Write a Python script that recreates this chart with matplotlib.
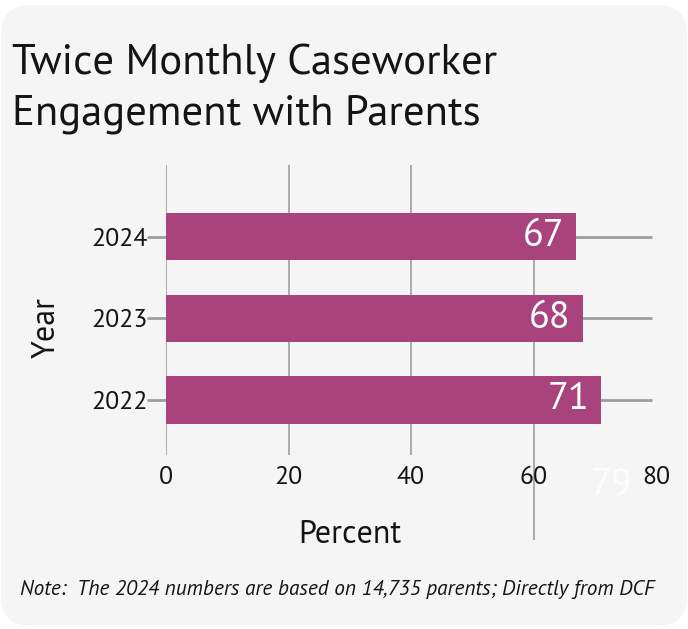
import matplotlib.pyplot as plt
from matplotlib.patches import FancyBboxPatch
from matplotlib.transforms import IdentityTransform

years = ['2022', '2023', '2024']
percent = [71, 68, 67]
grid_ticks = [0, 20, 40]
x_ticks = [0, 20, 40, 60, 80]

bar_color = '#a8437d'
grid_color = '#9e9e9e'
text_color = '#141414'
body_font = ['PT Sans', 'Noto Sans', 'DejaVu Sans']

fig = plt.figure(figsize=(6.88, 6.29), dpi=100)
fig.patch.set_facecolor('white')

# light rounded card behind everything
card = FancyBboxPatch((1, 3), 686, 621, boxstyle='round,pad=0,rounding_size=30',
                      transform=IdentityTransform(), facecolor='#f5f5f5',
                      edgecolor='none', zorder=-10)
fig.patches.append(card)

ax = fig.add_axes([0.2413, 0.2766, 0.7122, 0.4611])
ax.set_facecolor('none')
ypos = list(range(len(years)))

ax.barh(ypos, percent, height=0.58, color=bar_color, zorder=3)

for g in grid_ticks:
    ax.axvline(g, color=grid_color, lw=1.2, zorder=1)
ax.vlines(60, -1.72, 1.72, color=grid_color, lw=1.2, zorder=1, clip_on=False)
ax.hlines(ypos, -3.1, 79.4, color=grid_color, lw=2, zorder=2, clip_on=False)

for y, v in zip(ypos, percent):
    ax.text(v - 1.9, y, str(v), ha='right', va='center', color='white',
            fontsize=27.5, family=body_font, zorder=4)
ax.text(72.7, -1.04, '79', ha='center', va='center', color='white',
        fontsize=27.5, family=body_font, alpha=0.9, clip_on=False)

ax.set_xlim(0, 80)
ax.set_ylim(-0.675, 2.88)
ax.set_xticks(x_ticks)
ax.set_xticklabels([str(t) for t in x_ticks])
ax.set_yticks(ypos)
ax.set_yticklabels(years)
ax.tick_params(axis='both', length=0, labelsize=18.5, labelcolor=text_color)
ax.tick_params(axis='x', pad=8)
ax.tick_params(axis='y', pad=13)
for lab in ax.get_xticklabels() + ax.get_yticklabels():
    lab.set_family(body_font)
for s in ax.spines.values():
    s.set_visible(False)

ax.set_xlabel('Percent', fontsize=23, family=body_font, color=text_color, va='center')
ax.xaxis.set_label_coords(0.3755, -0.276)
ax.set_ylabel('Year', fontsize=23, family=body_font, color=text_color, va='center')
ax.yaxis.set_label_coords(-0.243, 0.438)

fig.text(12 / 688, 0.8824, 'Twice Monthly Caseworker', fontsize=30.8,
         family=body_font, color=text_color, va='baseline')
fig.text(12 / 688, 0.8013, 'Engagement with Parents', fontsize=30.8,
         family=body_font, color=text_color, va='baseline')
fig.text(20 / 688, 0.054, 'Note:  The 2024 numbers are based on 14,735 parents; Directly from DCF',
         fontsize=15.3, family=body_font, style='italic', color=text_color, va='baseline')

fig.savefig('out.png', dpi=100, facecolor='white')
